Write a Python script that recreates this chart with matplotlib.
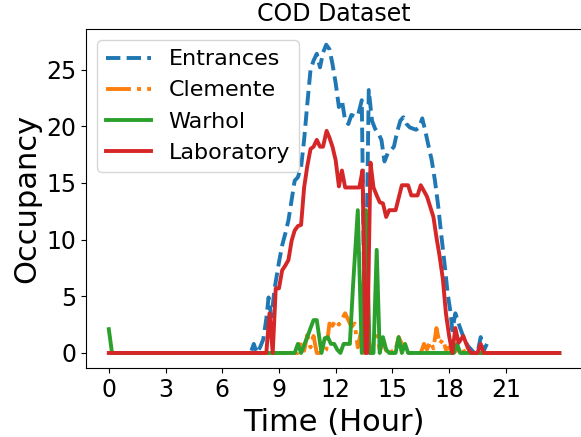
import matplotlib
matplotlib.use("Agg")
import matplotlib.pyplot as plt

# Hours and occupancy values
ent_t = [0, 7.5, 7.67, 7.83, 8.0, 8.17, 8.33, 8.45, 8.6, 8.78, 9.0, 9.17, 9.33, 9.5,
         9.67, 9.83, 10.0, 10.17, 10.33, 10.5, 10.67, 10.83, 11.0, 11.17, 11.33, 11.5,
         11.67, 11.83, 12.0, 12.17, 12.33, 12.5, 12.67, 12.83, 13.0, 13.17, 13.38, 13.55,
         13.75, 13.92, 14.08, 14.25, 14.42, 14.58, 14.75, 14.92, 15.08, 15.25, 15.42,
         15.58, 15.75, 15.92, 16.08, 16.25, 16.42, 16.58, 16.75, 16.92, 17.08, 17.25,
         17.42, 17.58, 17.75, 17.92, 18.08, 18.17, 18.33, 18.5, 18.67, 18.83, 19.0,
         19.17, 19.33, 19.5, 19.67, 19.83, 20.0]
ent_v = [0, 0, 0.8, 0, 0.5, 1.2, 3.0, 4.9, 3.2, 5.8, 8.0, 9.5, 10.5, 11.7,
         13.5, 15.2, 15.5, 16.4, 18.8, 22.0, 25.0, 25.8, 26.4, 25.2, 26.5, 27.2,
         26.8, 25.5, 23.8, 21.7, 22.3, 20.5, 20.2, 21.0, 20.9, 20.9, 22.3, 0,
         23.2, 20.5, 19.8, 19.4, 18.8, 16.9, 17.6, 17.9, 18.2, 19.5, 20.5,
         20.8, 20.2, 19.9, 19.8, 19.7, 19.9, 20.7, 19.5, 18.2, 17.0, 15.2,
         13.0, 10.5, 8.0, 5.3, 3.5, 2.0, 3.5, 2.6, 1.8, 1.1, 0.6,
         0.3, 0, 0, 1.4, 0.2, 0.8]

cle_t = [0, 10.0, 10.17, 10.33, 10.5, 10.67, 10.83, 11.0, 11.33, 11.5, 11.67, 11.83,
         12.0, 12.17, 12.33, 12.5, 12.67, 12.83, 13.0, 13.17, 13.33, 13.5, 13.67, 13.83,
         14.0, 14.17, 14.33, 14.5, 14.67, 14.83, 15.0, 15.17, 15.33, 15.5, 15.67, 16.5,
         16.67, 16.83, 17.0, 17.17, 17.33, 17.5, 17.67, 17.83, 18.0, 18.17, 18.5, 18.67,
         18.83, 23.83]
cle_v = [0, 0, 1.0, 0.2, 1.6, 0.5, 1.5, 0, 0, 0.3, 2.6, 2.4,
         2.9, 2.5, 3.0, 3.5, 2.9, 2.3, 2.6, 0.5, 1.8, 0, 0.5, 0,
         0.8, 1.5, 0.3, 1.0, 0.2, 0.5, 0, 0.3, 1.4, 0.8, 0, 0,
         0.8, 0.3, 1.0, 0.4, 2.2, 0.8, 1.2, 0.3, 0.5, 0, 0.3, 0.6,
         0, 0]

war_t = [0, 0.17, 9.83, 10.0, 10.17, 10.33, 10.5, 10.67, 10.83, 11.0, 11.25, 11.42,
         11.58, 11.75, 11.92, 12.08, 12.25, 12.42, 12.75, 12.92, 13.17, 13.38, 13.6,
         13.8, 14.0, 14.17, 14.33, 14.5, 14.67, 14.83, 15.17, 15.33, 15.5, 15.67,
         15.83, 18.25, 18.42, 18.58, 23.83]
war_v = [2.1, 0, 0, 0.8, 0, 0.7, 1.4, 2.2, 2.9, 2.9, 0, 1.3,
         1.4, 0.8, 0.8, 0.3, 0, 0.8, 0.8, 6.0, 12.6, 0, 12.6,
         0, 0, 9.1, 0, 1.4, 0.3, 0, 0, 1.4, 0, 0.8,
         0, 0, 0.8, 0, 0]

lab_t = [0, 8.33, 8.5, 8.67, 8.83, 9.0, 9.17, 9.33, 9.5, 9.67, 9.83, 10.0, 10.17,
         10.33, 10.5, 10.67, 10.83, 11.0, 11.17, 11.33, 11.52, 11.67, 11.83, 12.0,
         12.17, 12.33, 12.5, 13.25, 13.42, 13.58, 13.67, 13.84, 14.0, 14.17, 14.33,
         14.5, 14.67, 14.83, 15.17, 15.5, 15.83, 16.0, 16.33, 16.5, 16.83, 17.17,
         17.33, 17.5, 17.67, 17.83, 18.0, 18.17, 18.33, 18.5, 18.75, 19.0, 19.17,
         19.5, 19.67, 19.83, 23.83]
lab_v = [0, 0, 3.5, 0, 5.7, 5.7, 7.3, 7.7, 8.2, 9.9, 10.8, 11.2, 11.3,
         14.6, 16.5, 18.0, 18.2, 18.8, 18.2, 18.2, 19.6, 19.0, 18.2, 17.0,
         14.7, 16.1, 14.6, 14.6, 16.1, 0, 0, 16.8, 14.6, 13.9, 13.3,
         13.2, 12.0, 12.6, 12.6, 14.8, 14.8, 13.9, 13.9, 14.8, 13.8, 12.0,
         10.2, 8.5, 6.5, 3.5, 1.5, 0, 2.2, 0.9, 1.5, 0.4, 0,
         0, 0.8, 0, 0]

hour_ticks = [0, 3, 6, 9, 12, 15, 18, 21]

fig = plt.figure(figsize=(5.81, 4.37), dpi=100)
ax = fig.add_axes([0.1485, 0.157, 0.853, 0.776])

lw = 2.8
ax.plot(ent_t, ent_v, '--', color='#1f77b4', linewidth=lw, label='Entrances')
ax.plot(cle_t, cle_v, '-.', color='#ff7f0e', linewidth=lw, label='Clemente')
ax.plot(war_t, war_v, '-', color='#2ca02c', linewidth=lw, label='Warhol')
ax.plot(lab_t, lab_v, '-', color='#d62728', linewidth=lw, label='Laboratory')

ax.set_xticks(hour_ticks)
ax.tick_params(labelsize=17)
ax.set_xlabel('Time (Hour)', fontsize=22)
ax.set_ylabel('Occupancy', fontsize=22)
ax.set_title('COD Dataset', fontsize=17)
ax.legend(loc='upper left', fontsize=16)

fig.savefig('out.png', dpi=100)
